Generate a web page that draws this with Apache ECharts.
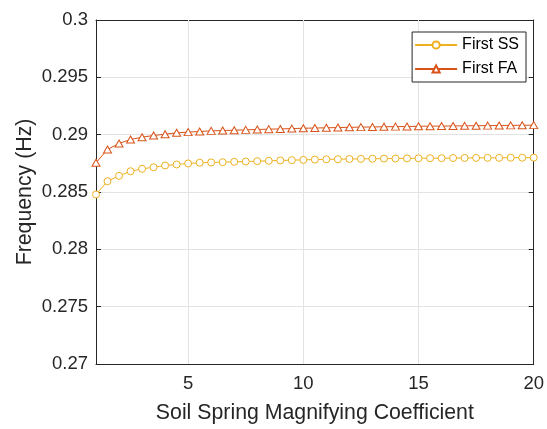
<!DOCTYPE html>
<html>
<head>
<meta charset="utf-8">
<script src="https://cdn.jsdelivr.net/npm/echarts@6/dist/echarts.min.js"></script>
<style>
html, body { margin: 0; padding: 0; background: #fff; }
#chart { width: 547px; height: 429px; }
</style>
</head>
<body>
<div id="chart"></div>
<script>
// soil spring magnifying coefficient (x)
var coefficient = [1, 1.5, 2, 2.5, 3, 3.5, 4, 4.5, 5, 5.5, 6, 6.5, 7, 7.5, 8, 8.5, 9, 9.5, 10, 10.5,
    11, 11.5, 12, 12.5, 13, 13.5, 14, 14.5, 15, 15.5, 16, 16.5, 17, 17.5, 18, 18.5, 19, 19.5, 20];

// frequencies (Hz)
var firstSS = [0.28478, 0.28594, 0.28641, 0.28681, 0.28702, 0.28716, 0.28731, 0.2874, 0.28749, 0.28755,
    0.28758, 0.2876, 0.28763, 0.28766, 0.28769, 0.28772, 0.28775, 0.28778, 0.2878, 0.28783,
    0.28785, 0.28786, 0.28788, 0.28789, 0.2879, 0.28791, 0.28792, 0.28793, 0.28794, 0.28795,
    0.28795, 0.28796, 0.28797, 0.28797, 0.28798, 0.28798, 0.28799, 0.28799, 0.288];
var firstFA = [0.28755, 0.28871, 0.28923, 0.28958, 0.28978, 0.28993, 0.29004, 0.29016, 0.29022, 0.29028,
    0.29033, 0.29036, 0.29039, 0.29042, 0.29045, 0.29048, 0.2905, 0.29053, 0.29056, 0.29058,
    0.2906, 0.29062, 0.29064, 0.29066, 0.29067, 0.29069, 0.2907, 0.29071, 0.29073, 0.29074,
    0.29075, 0.29076, 0.29077, 0.29078, 0.29079, 0.2908, 0.29081, 0.29082, 0.29083];

var seriesNames = ['First SS', 'First FA'];
var xTicks = [5, 10, 15, 20];
var xGrid = [5, 10, 15];

var axisColor = '#262626';
var gridColor = '#e3e3e3';
var font = 'Liberation Sans';

function pairs(ys) {
    return coefficient.map(function (x, i) { return [x, ys[i]]; });
}

var chart = echarts.init(document.getElementById('chart'));

var baseX = {
    type: 'value', min: 1, max: 20,
    axisLine: { show: true, onZero: false, lineStyle: { color: axisColor, width: 1 } },
    axisTick: { show: true, inside: true, length: 5, customValues: xTicks, lineStyle: { color: axisColor } },
    splitLine: { show: false }
};
var baseY = {
    type: 'value', min: 0.27, max: 0.3, interval: 0.005,
    axisLine: { show: true, lineStyle: { color: axisColor, width: 1 } },
    axisTick: { show: true, inside: true, length: 5, lineStyle: { color: axisColor } }
};

chart.setOption({
    backgroundColor: '#fff',
    animation: false,
    textStyle: { fontFamily: font },
    grid: { left: 96, right: 10, top: 20, bottom: 64 },
    legend: {
        data: seriesNames,
        orient: 'vertical',
        right: 21,
        top: 32,
        padding: [5, 7, 5, 2],
        itemWidth: 42,
        itemHeight: 9,
        itemGap: 8,
        borderColor: axisColor,
        borderWidth: 1,
        backgroundColor: '#fff',
        textStyle: { fontSize: 16, color: '#000', fontFamily: font }
    },
    xAxis: [
        Object.assign({}, baseX, {
            position: 'bottom',
            name: 'Soil Spring Magnifying Coefficient',
            nameLocation: 'middle',
            nameGap: 39,
            nameTextStyle: { fontSize: 21.3, color: axisColor, fontFamily: font },
            axisLabel: { show: true, customValues: xTicks, margin: 10, fontSize: 18.5, color: axisColor, fontFamily: font }
        }),
        Object.assign({}, baseX, { position: 'top', axisLabel: { show: false } })
    ],
    yAxis: [
        Object.assign({}, baseY, {
            position: 'left',
            name: 'Frequency (Hz)',
            nameLocation: 'middle',
            nameMoveOverlap: false,
            nameGap: 60,
            nameTextStyle: { fontSize: 21.3, color: axisColor, fontFamily: font },
            axisLabel: {
                margin: 8, fontSize: 18.5, color: axisColor, fontFamily: font,
                formatter: function (v) { return String(+v.toFixed(3)); }
            },
            splitLine: { show: true, lineStyle: { color: gridColor, width: 1 } }
        }),
        Object.assign({}, baseY, { position: 'right', axisLabel: { show: false }, splitLine: { show: false } })
    ],
    series: [
        {
            name: seriesNames[0],
            type: 'line',
            data: pairs(firstSS),
            color: '#EDB120',
            symbol: 'circle',
            symbolSize: 7,
            showAllSymbol: true,
            lineStyle: { width: 1, color: '#EDB120' },
            itemStyle: { color: '#fff', borderColor: '#EDB120', borderWidth: 1 },
            z: 3,
            markLine: {
                silent: true,
                symbol: 'none',
                z: 1,
                label: { show: false },
                lineStyle: { color: gridColor, type: 'solid', width: 1 },
                data: xGrid.map(function (v) { return { xAxis: v }; })
            }
        },
        {
            name: seriesNames[1],
            type: 'line',
            data: pairs(firstFA),
            color: '#D95319',
            symbol: 'triangle',
            symbolSize: [8, 7],
            showAllSymbol: true,
            lineStyle: { width: 1, color: '#D95319' },
            itemStyle: { color: '#fff', borderColor: '#D95319', borderWidth: 1 },
            z: 3
        }
    ]
});

window.addEventListener('resize', function () {
    chart.resize();
});
</script>
</body>
</html>
